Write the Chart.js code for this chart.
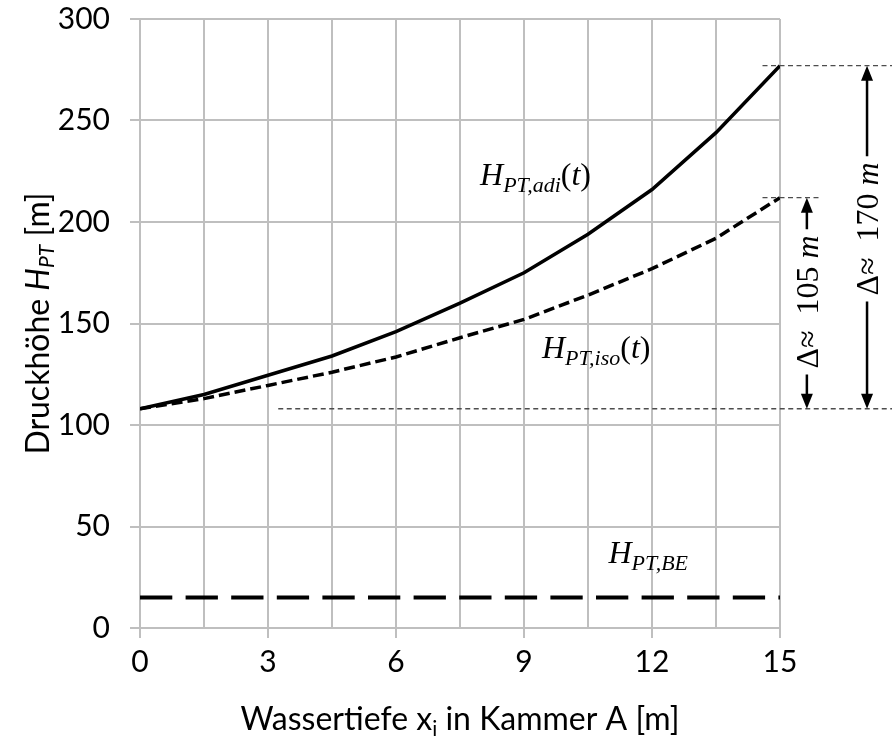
<!DOCTYPE html>
<html>
<head>
<meta charset="utf-8">
<title>Druckhöhe über Wassertiefe</title>
<script src="https://cdn.jsdelivr.net/npm/chart.js@4.4.1/dist/chart.umd.min.js"></script>
<style>
  html, body { margin: 0; padding: 0; background: #fff; }
  #wrap { width: 892px; height: 739px; }
</style>
</head>
<body>
<div id="wrap"><canvas id="druckChart" width="892" height="739"></canvas></div>
<script>
// Wassertiefe x_i in Kammer A [m]
var depth = [0, 1.5, 3, 4.5, 6, 7.5, 9, 10.5, 12, 13.5, 15];
// Druckhöhe H_PT [m], adiabate und isotherme Kompression
var headAdi = [108, 115, 124.5, 134, 146, 160, 175, 194, 216, 244, 277];
var headIso = [108, 113, 119.5, 126, 133.5, 143, 152, 164, 177, 192, 212];
// H_PT,BE bleibt über die ganze Tiefe gleich
var depthBE = [0, 15];
var headBE = [15, 15];
// Achsbeschriftung
var xTicks = [0, 3, 6, 9, 12, 15];
var yTicks = [0, 50, 100, 150, 200, 250, 300];
var deltaTexts = ['Δ≈\u2002105 ', 'Δ≈\u2002170 '];

var GRID = '#bfbfbf';
var SANS = '32px Lato';
var SANS_I = 'italic 32px Lato';
var SANS_SUB = '21px Lato';
var SANS_SUB_I = 'italic 21px Lato';
var SERIF = '32px "Liberation Serif"';
var SERIF_I = 'italic 32px "Liberation Serif"';
var SERIF_SUB_I = 'italic 22px "Liberation Serif"';

function pts(xs, ys) {
  return xs.map(function (x, i) { return { x: x, y: ys[i] }; });
}

// schreibt eine Zeile aus mehreren Schriftstücken (Index, kursiv ...)
function drawRuns(ctx, runs, x, y, align) {
  var total = runsWidth(ctx, runs);
  var cx = align === 'center' ? x - total / 2 : x;
  ctx.textAlign = 'left';
  ctx.textBaseline = 'alphabetic';
  runs.forEach(function (r) {
    ctx.font = r[1];
    ctx.fillText(r[0], cx, y + (r[2] || 0));
    cx += ctx.measureText(r[0]).width;
  });
  return total;
}

function runsWidth(ctx, runs) {
  var total = 0;
  runs.forEach(function (r) { ctx.font = r[1]; total += ctx.measureText(r[0]).width; });
  return total;
}

function hLine(ctx, x1, x2, y) {
  ctx.beginPath();
  ctx.moveTo(x1, y);
  ctx.lineTo(x2, y);
  ctx.stroke();
}

function arrowHead(ctx, x, yTip, dir) {
  // dir = -1 zeigt nach oben, +1 nach unten
  ctx.beginPath();
  ctx.moveTo(x, yTip);
  ctx.lineTo(x - 6, yTip - dir * 15);
  ctx.lineTo(x + 6, yTip - dir * 15);
  ctx.closePath();
  ctx.fill();
}

// Maßpfeil mit gedrehter Beschriftung in der Mitte
function dimension(ctx, x, yTop, yBottom, yText, runs) {
  var len = runsWidth(ctx, runs);
  var gapTop = yText - len / 2 - 6;
  var gapBottom = yText + len / 2 + 6;
  ctx.save();
  ctx.strokeStyle = '#000';
  ctx.fillStyle = '#000';
  ctx.lineWidth = 2.5;
  ctx.setLineDash([]);
  ctx.beginPath();
  ctx.moveTo(x, yTop + 10);
  ctx.lineTo(x, gapTop);
  ctx.moveTo(x, gapBottom);
  ctx.lineTo(x, yBottom - 10);
  ctx.stroke();
  arrowHead(ctx, x, yTop, -1);
  arrowHead(ctx, x, yBottom, 1);
  ctx.translate(x + 11, yText);
  ctx.rotate(-Math.PI / 2);
  drawRuns(ctx, runs, 0, 0, 'center');
  ctx.restore();
}

var beschriftung = {
  id: 'beschriftung',
  afterDraw: function (chart) {
    var ctx = chart.ctx;
    var xs = chart.scales.x, ys = chart.scales.y;
    var area = chart.chartArea;
    var X = function (v) { return xs.getPixelForValue(v); };
    var Y = function (v) { return ys.getPixelForValue(v); };

    ctx.save();
    ctx.fillStyle = '#000';

    // Achsentitel
    drawRuns(ctx, [
      ['Wassertiefe x', SANS],
      ['i', SANS_SUB, 6],
      [' in Kammer A [m]', SANS]
    ], (area.left + area.right) / 2, 730, 'center');

    ctx.save();
    ctx.translate(49, (area.top + area.bottom) / 2);
    ctx.rotate(-Math.PI / 2);
    drawRuns(ctx, [
      ['Druckhöhe ', SANS],
      ['H', SANS_I],
      ['PT', SANS_SUB_I, 5],
      [' [m]', SANS]
    ], 0, 0, 'center');
    ctx.restore();

    // Kurvenbeschriftung
    drawRuns(ctx, [['H', SERIF_I], ['PT,adi', SERIF_SUB_I, 7], ['(', SERIF], ['t', SERIF_I], [')', SERIF]],
      X(7.97), Y(218.3), 'left');
    drawRuns(ctx, [['H', SERIF_I], ['PT,iso', SERIF_SUB_I, 7], ['(', SERIF], ['t', SERIF_I], [')', SERIF]],
      X(9.42), Y(132.8), 'left');
    drawRuns(ctx, [['H', SERIF_I], ['PT,BE', SERIF_SUB_I, 7]],
      X(10.98), Y(32.2), 'left');

    // Hilfslinien an Anfang und Ende der Kurven
    var hStart = headAdi[0];
    var hAdi = headAdi[headAdi.length - 1];
    var hIso = headIso[headIso.length - 1];
    var xRight = chart.width;
    ctx.save();
    ctx.strokeStyle = '#4d4d4d';
    ctx.lineWidth = 1.3;
    ctx.setLineDash([5, 3.5]);
    hLine(ctx, X(14.59), xRight, Y(hAdi));
    hLine(ctx, X(14.59), X(15.96), Y(hIso));
    hLine(ctx, X(3.24), xRight, Y(hStart));
    ctx.restore();

    dimension(ctx, X(15.63), Y(hIso), Y(hStart), Y(160.6),
      [[deltaTexts[0], SERIF], ['m', SERIF_I]]);
    dimension(ctx, X(17.04), Y(hAdi), Y(hStart), Y(196.6),
      [[deltaTexts[1], SERIF], ['m', SERIF_I]]);

    ctx.restore();
  }
};

new Chart(document.getElementById('druckChart'), {
  type: 'scatter',
  data: {
    datasets: [
      {
        label: 'H_PT,adi(t)',
        data: pts(depth, headAdi),
        showLine: true,
        borderColor: '#000',
        borderWidth: 3.5,
        pointRadius: 0,
        tension: 0
      },
      {
        label: 'H_PT,iso(t)',
        data: pts(depth, headIso),
        showLine: true,
        borderColor: '#000',
        borderWidth: 3.5,
        borderDash: [11, 5],
        pointRadius: 0,
        tension: 0
      },
      {
        label: 'H_PT,BE',
        data: pts(depthBE, headBE),
        showLine: true,
        borderColor: '#000',
        borderWidth: 4,
        borderDash: [32.3, 13.3],
        pointRadius: 0,
        tension: 0
      }
    ]
  },
  options: {
    responsive: false,
    animation: false,
    layout: { padding: { top: 19, right: 112, left: 0, bottom: 0 } },
    plugins: {
      legend: { display: false },
      tooltip: { enabled: false }
    },
    scales: {
      x: {
        type: 'linear',
        min: 0,
        max: 15,
        afterBuildTicks: function (s) { s.ticks = depth.map(function (v) { return { value: v }; }); },
        afterFit: function (s) { s.height = 111; },
        grid: {
          color: GRID,
          lineWidth: 2,
          tickLength: 10,
          tickColor: function (c) { return c.tick && xTicks.indexOf(c.tick.value) >= 0 ? GRID : 'rgba(0,0,0,0)'; }
        },
        border: { color: GRID, width: 2 },
        ticks: {
          padding: 6,
          color: '#000',
          font: { family: 'Lato', size: 30 },
          maxRotation: 0,
          autoSkip: false,
          callback: function (v) { return xTicks.indexOf(v) >= 0 ? String(v) : ''; }
        }
      },
      y: {
        type: 'linear',
        min: 0,
        max: 300,
        afterBuildTicks: function (s) { s.ticks = yTicks.map(function (v) { return { value: v }; }); },
        afterFit: function (s) {
          s.width = 140;
          // der Abstand der Beschriftung soll oben keinen Rand erzeugen
          s.paddingTop = 18;
          s.paddingBottom = 18;
        },
        grid: { color: GRID, lineWidth: 2, tickLength: 10, tickColor: GRID },
        border: { color: GRID, width: 2 },
        ticks: {
          padding: 20,
          color: '#000',
          font: { family: 'Lato', size: 30 },
          callback: function (v) { return String(v); }
        }
      }
    }
  },
  plugins: [beschriftung]
});
</script>
</body>
</html>
